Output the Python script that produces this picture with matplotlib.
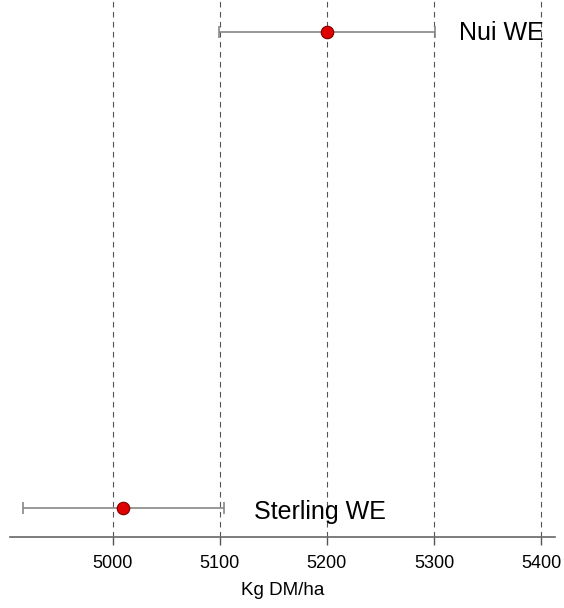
import numpy as np
import matplotlib.pyplot as plt

plt.rcParams['font.family'] = ['Liberation Sans', 'DejaVu Sans']

labels = ['Sterling WE', 'Nui WE']
means = [5010, 5200]
lower = [4916, 5099]
upper = [5104, 5301]
xticks = [5000, 5100, 5200, 5300, 5400]

fig = plt.figure(figsize=(5.64, 6.08), dpi=100)
ax = fig.add_axes([10 / 564, 71 / 608, 545 / 564, 537 / 608])

ypos = np.arange(1, len(labels) + 1)
means = np.array(means)
err = [means - np.array(lower), np.array(upper) - means]

for x in xticks:
    ax.axvline(x, color='#555555', linestyle=(0, (5, 4)), linewidth=0.8, zorder=1)

ax.errorbar(means, ypos, xerr=err, fmt='none', ecolor='#888888', elinewidth=1.2,
            capsize=4, capthick=1.2, zorder=2)
ax.plot(means, ypos, 'o', color='#e00000', markeredgecolor='#7a0000',
        markersize=9, markeredgewidth=0.8, zorder=3)

ax.text(5132, 0.992, 'Sterling WE', fontsize=18, va='center', ha='left')
ax.text(5323, 1.998, 'Nui WE', fontsize=18, va='center', ha='left')

ax.set_xlim(4904, 5413)
ax.set_ylim(0.939, 2.067)
ax.set_xticks(xticks)
ax.set_yticks([])
ax.tick_params(axis='x', direction='out', length=6, width=1, color='#555555',
               labelsize=13, pad=7)
for s in ['left', 'right', 'top']:
    ax.spines[s].set_visible(False)
ax.spines['bottom'].set_color('#666666')
ax.spines['bottom'].set_linewidth(1.2)
ax.set_xlabel('Kg DM/ha', fontsize=13.5, labelpad=7)

fig.savefig('out.png', dpi=100)
